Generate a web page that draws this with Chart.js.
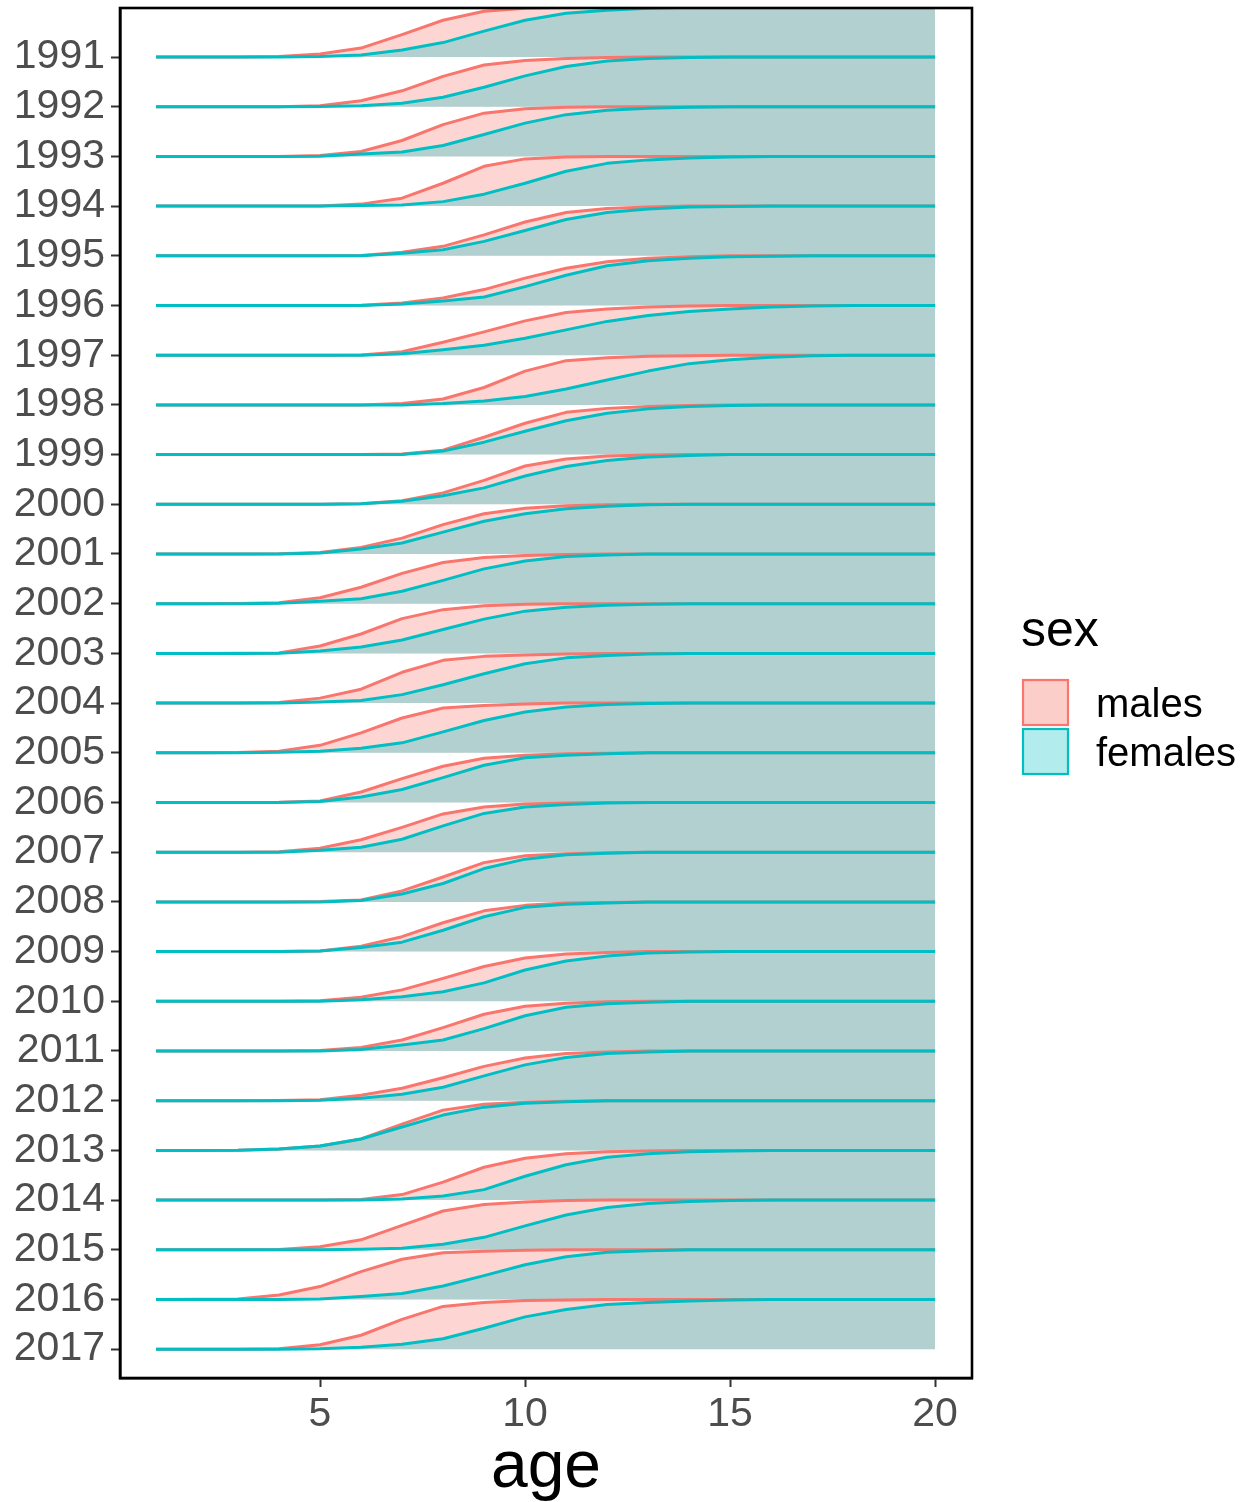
<!DOCTYPE html>
<html>
<head>
<meta charset="utf-8">
<script src="https://cdn.jsdelivr.net/npm/chart.js@4.4.1/dist/chart.umd.min.js"></script>
<style>
  html, body { margin: 0; padding: 0; background: #fff; }
  #wrap { width: 1241px; height: 1502px; }
</style>
</head>
<body>
<div id="wrap"><canvas id="ridges" width="1241" height="1502"></canvas></div>
<script>
// ages on the x axis
const ages = [1, 2, 3, 4, 5, 6, 7, 8, 9, 10, 11, 12, 13, 14, 15, 16, 17, 18, 19, 20];
const xTicks = [5, 10, 15, 20];
const years = [1991, 1992, 1993, 1994, 1995, 1996, 1997, 1998, 1999, 2000, 2001, 2002, 2003, 2004,
  2005, 2006, 2007, 2008, 2009, 2010, 2011, 2012, 2013, 2014, 2015, 2016, 2017];
const sexes = ['males', 'females'];

// cumulative proportion mature by age, one row per year
const males = [
  [0, 0, 0, 0.01, 0.06, 0.18, 0.45, 0.74, 0.92, 0.98, 1, 1, 1, 1, 1, 1, 1, 1, 1, 1],
  [0, 0, 0, 0, 0.02, 0.12, 0.32, 0.61, 0.84, 0.93, 0.97, 0.99, 1, 1, 1, 1, 1, 1, 1, 1],
  [0, 0, 0, 0, 0.02, 0.1, 0.32, 0.64, 0.87, 0.96, 0.99, 1, 1, 1, 1, 1, 1, 1, 1, 1],
  [0, 0, 0, 0, 0, 0.04, 0.16, 0.46, 0.8, 0.95, 0.99, 1, 1, 1, 1, 1, 1, 1, 1, 1],
  [0, 0, 0, 0, 0, 0.005, 0.07, 0.19, 0.42, 0.68, 0.87, 0.95, 0.98, 1, 1, 1, 1, 1, 1, 1],
  [0, 0, 0, 0, 0, 0.005, 0.05, 0.15, 0.32, 0.55, 0.75, 0.88, 0.95, 0.98, 1, 1, 1, 1, 1, 1],
  [0, 0, 0, 0, 0, 0.005, 0.07, 0.26, 0.47, 0.69, 0.86, 0.93, 0.97, 0.99, 1, 1, 1, 1, 1, 1],
  [0, 0, 0, 0, 0, 0, 0.03, 0.12, 0.35, 0.68, 0.89, 0.95, 0.98, 0.99, 1, 1, 1, 1, 1, 1],
  [0, 0, 0, 0, 0, 0, 0.01, 0.09, 0.35, 0.63, 0.85, 0.93, 0.97, 0.99, 1, 1, 1, 1, 1, 1],
  [0, 0, 0, 0, 0, 0.01, 0.07, 0.23, 0.48, 0.77, 0.91, 0.97, 0.99, 1, 1, 1, 1, 1, 1, 1],
  [0, 0, 0, 0.005, 0.03, 0.13, 0.32, 0.59, 0.81, 0.92, 0.97, 0.99, 1, 1, 1, 1, 1, 1, 1, 1],
  [0, 0, 0.005, 0.02, 0.12, 0.33, 0.61, 0.83, 0.93, 0.97, 0.99, 1, 1, 1, 1, 1, 1, 1, 1, 1],
  [0, 0, 0.005, 0.01, 0.15, 0.39, 0.7, 0.88, 0.96, 0.99, 1, 1, 1, 1, 1, 1, 1, 1, 1, 1],
  [0, 0, 0, 0.01, 0.1, 0.28, 0.62, 0.86, 0.94, 0.97, 0.99, 1, 1, 1, 1, 1, 1, 1, 1, 1],
  [0, 0, 0.005, 0.03, 0.15, 0.4, 0.7, 0.9, 0.95, 0.98, 1, 1, 1, 1, 1, 1, 1, 1, 1, 1],
  [0, 0, 0, 0.005, 0.03, 0.21, 0.48, 0.73, 0.89, 0.95, 0.98, 0.99, 1, 1, 1, 1, 1, 1, 1, 1],
  [0, 0, 0, 0.01, 0.08, 0.25, 0.5, 0.77, 0.91, 0.97, 0.99, 1, 1, 1, 1, 1, 1, 1, 1, 1],
  [0, 0, 0, 0, 0.01, 0.04, 0.22, 0.5, 0.79, 0.93, 0.97, 0.99, 1, 1, 1, 1, 1, 1, 1, 1],
  [0, 0, 0, 0, 0.01, 0.11, 0.3, 0.58, 0.82, 0.93, 0.98, 0.99, 1, 1, 1, 1, 1, 1, 1, 1],
  [0, 0, 0, 0, 0.01, 0.08, 0.23, 0.46, 0.7, 0.87, 0.95, 0.98, 1, 1, 1, 1, 1, 1, 1, 1],
  [0, 0, 0, 0, 0.01, 0.07, 0.22, 0.47, 0.74, 0.9, 0.96, 0.99, 1, 1, 1, 1, 1, 1, 1, 1],
  [0, 0, 0, 0.005, 0.02, 0.11, 0.25, 0.46, 0.69, 0.86, 0.95, 0.98, 1, 1, 1, 1, 1, 1, 1, 1],
  [0, 0, 0.005, 0.03, 0.09, 0.23, 0.53, 0.81, 0.93, 0.97, 0.99, 1, 1, 1, 1, 1, 1, 1, 1, 1],
  [0, 0, 0, 0, 0, 0.01, 0.11, 0.36, 0.66, 0.84, 0.93, 0.97, 0.99, 1, 1, 1, 1, 1, 1, 1],
  [0, 0, 0, 0.005, 0.06, 0.2, 0.49, 0.78, 0.91, 0.96, 0.99, 1, 1, 1, 1, 1, 1, 1, 1, 1],
  [0, 0.005, 0.01, 0.09, 0.26, 0.56, 0.81, 0.94, 0.97, 0.99, 1, 1, 1, 1, 1, 1, 1, 1, 1, 1],
  [0, 0, 0, 0.01, 0.09, 0.28, 0.6, 0.86, 0.94, 0.98, 0.99, 1, 1, 1, 1, 1, 1, 1, 1, 1]
];
const females = [
  [0, 0, 0, 0, 0.01, 0.04, 0.14, 0.29, 0.52, 0.74, 0.88, 0.94, 0.98, 1, 1, 1, 1, 1, 1, 1],
  [0, 0, 0, 0, 0.005, 0.02, 0.07, 0.19, 0.39, 0.62, 0.81, 0.92, 0.97, 0.99, 1, 1, 1, 1, 1, 1],
  [0, 0, 0, 0, 0.005, 0.05, 0.09, 0.22, 0.44, 0.67, 0.84, 0.93, 0.97, 0.99, 1, 1, 1, 1, 1, 1],
  [0, 0, 0, 0, 0, 0.01, 0.02, 0.09, 0.24, 0.46, 0.7, 0.86, 0.93, 0.97, 0.99, 1, 1, 1, 1, 1],
  [0, 0, 0, 0, 0, 0, 0.05, 0.12, 0.29, 0.51, 0.73, 0.87, 0.94, 0.98, 0.99, 1, 1, 1, 1, 1],
  [0, 0, 0, 0, 0, 0, 0.03, 0.09, 0.17, 0.38, 0.61, 0.8, 0.9, 0.95, 0.98, 0.99, 1, 1, 1, 1],
  [0, 0, 0, 0, 0, 0, 0.03, 0.11, 0.2, 0.34, 0.51, 0.68, 0.8, 0.88, 0.93, 0.97, 0.99, 1, 1, 1],
  [0, 0, 0, 0, 0, 0, 0, 0.03, 0.08, 0.17, 0.32, 0.5, 0.68, 0.83, 0.91, 0.96, 0.99, 1, 1, 1],
  [0, 0, 0, 0, 0, 0, 0, 0.07, 0.25, 0.47, 0.68, 0.83, 0.92, 0.97, 0.99, 1, 1, 1, 1, 1],
  [0, 0, 0, 0, 0, 0.01, 0.06, 0.17, 0.33, 0.57, 0.76, 0.88, 0.95, 0.98, 1, 1, 1, 1, 1, 1],
  [0, 0, 0, 0, 0.02, 0.1, 0.22, 0.44, 0.66, 0.81, 0.91, 0.96, 0.99, 1, 1, 1, 1, 1, 1, 1],
  [0, 0, 0, 0.01, 0.05, 0.1, 0.25, 0.47, 0.7, 0.86, 0.95, 0.98, 1, 1, 1, 1, 1, 1, 1, 1],
  [0, 0, 0, 0.005, 0.05, 0.13, 0.27, 0.48, 0.69, 0.85, 0.93, 0.97, 0.99, 1, 1, 1, 1, 1, 1, 1],
  [0, 0, 0, 0, 0.02, 0.05, 0.17, 0.37, 0.59, 0.79, 0.91, 0.96, 0.99, 1, 1, 1, 1, 1, 1, 1],
  [0, 0, 0, 0.01, 0.03, 0.09, 0.2, 0.42, 0.65, 0.82, 0.92, 0.97, 0.99, 1, 1, 1, 1, 1, 1, 1],
  [0, 0, 0, 0, 0.02, 0.11, 0.26, 0.5, 0.75, 0.9, 0.95, 0.98, 1, 1, 1, 1, 1, 1, 1, 1],
  [0, 0, 0, 0, 0.04, 0.1, 0.26, 0.53, 0.78, 0.91, 0.96, 0.99, 1, 1, 1, 1, 1, 1, 1, 1],
  [0, 0, 0, 0, 0, 0.03, 0.16, 0.37, 0.67, 0.86, 0.95, 0.98, 1, 1, 1, 1, 1, 1, 1, 1],
  [0, 0, 0, 0, 0.01, 0.08, 0.19, 0.43, 0.7, 0.89, 0.95, 0.98, 1, 1, 1, 1, 1, 1, 1, 1],
  [0, 0, 0, 0, 0, 0.03, 0.09, 0.19, 0.37, 0.63, 0.81, 0.91, 0.97, 0.99, 1, 1, 1, 1, 1, 1],
  [0, 0, 0, 0, 0, 0.03, 0.12, 0.22, 0.45, 0.71, 0.88, 0.95, 0.98, 1, 1, 1, 1, 1, 1, 1],
  [0, 0, 0, 0, 0.01, 0.05, 0.13, 0.27, 0.5, 0.72, 0.87, 0.95, 0.98, 1, 1, 1, 1, 1, 1, 1],
  [0, 0, 0.005, 0.03, 0.09, 0.23, 0.47, 0.71, 0.87, 0.95, 0.98, 1, 1, 1, 1, 1, 1, 1, 1, 1],
  [0, 0, 0, 0, 0, 0, 0.02, 0.08, 0.21, 0.48, 0.71, 0.86, 0.93, 0.97, 0.99, 1, 1, 1, 1, 1],
  [0, 0, 0, 0, 0, 0.01, 0.03, 0.11, 0.25, 0.48, 0.7, 0.85, 0.93, 0.97, 0.99, 1, 1, 1, 1, 1],
  [0, 0, 0, 0, 0.01, 0.06, 0.12, 0.27, 0.48, 0.7, 0.86, 0.95, 0.98, 1, 1, 1, 1, 1, 1, 1],
  [0, 0, 0, 0, 0.01, 0.04, 0.1, 0.21, 0.42, 0.65, 0.8, 0.9, 0.94, 0.97, 0.99, 1, 1, 1, 1, 1]
];

const lineColors = ['#F8766D', '#00BFC4'];
const fillColors = ['rgba(248,118,109,0.3)', 'rgba(0,191,196,0.3)'];
const keyFills = ['rgba(248,118,109,0.36)', 'rgba(0,191,196,0.3)'];

Chart.defaults.font.family = '"Liberation Sans", Arial, sans-serif';

// each year sits on its own baseline, top row highest; later rows are drawn over earlier ones
const nRows = years.length;
const datasets = [];
years.forEach((yr, i) => {
  const base = nRows - 1 - i;
  [males[i], females[i]].forEach((vals, s) => {
    datasets.push({
      label: sexes[s] + ' ' + yr,
      data: ages.map((a, j) => ({ x: a, y: base + vals[j] })),
      fill: { value: base },
      backgroundColor: fillColors[s],
      borderColor: lineColors[s],
      borderWidth: 3,
      borderJoinStyle: 'round',
      pointRadius: 0,
      tension: 0,
      order: 1000 - (i * 2 + s)
    });
  });
});

// the axis labels should not push the panel in
function noOverflow(scale) {
  scale.paddingTop = 0;
  scale.paddingBottom = 0;
  scale.paddingLeft = 0;
  scale.paddingRight = 0;
}

const frame = {
  id: 'frame',
  afterDraw(chart) {
    const { ctx, chartArea: a } = chart;
    ctx.save();
    ctx.strokeStyle = '#000';
    ctx.lineWidth = 2.6;
    ctx.strokeRect(a.left, a.top, a.right - a.left, a.bottom - a.top);

    // legend for sex
    ctx.fillStyle = '#000';
    ctx.textAlign = 'left';
    ctx.textBaseline = 'alphabetic';
    ctx.font = '50px "Liberation Sans", Arial, sans-serif';
    ctx.fillText('sex', 1021, 646);
    ctx.font = '40px "Liberation Sans", Arial, sans-serif';
    sexes.forEach((sex, s) => {
      const y = 679 + s * 49;
      ctx.fillStyle = '#fff';
      ctx.fillRect(1022, y, 47, 47);
      ctx.fillStyle = keyFills[s];
      ctx.fillRect(1022, y, 47, 47);
      ctx.strokeStyle = lineColors[s];
      ctx.lineWidth = 2.2;
      ctx.strokeRect(1023, y + 1, 45, 45);
      ctx.fillStyle = '#000';
      ctx.fillText(sex, 1096, y + 38);
    });
    ctx.restore();
  }
};

new Chart(document.getElementById('ridges'), {
  type: 'line',
  data: { datasets },
  options: {
    responsive: false,
    animation: false,
    devicePixelRatio: 1,
    layout: { padding: { top: 8, right: 269, left: 0, bottom: 0 } },
    plugins: {
      legend: { display: false },
      tooltip: { enabled: false },
      filler: { propagate: false }
    },
    scales: {
      x: {
        type: 'linear',
        min: 0.122,
        max: 20.9,
        afterFit: (scale) => { scale.height = 124; noOverflow(scale); },
        afterBuildTicks: (scale) => { scale.ticks = xTicks.map(v => ({ value: v })); },
        ticks: { color: '#4D4D4D', font: { size: 41 }, padding: 3, maxRotation: 0 },
        grid: { drawOnChartArea: false, drawTicks: true, tickLength: 9, tickColor: '#333', tickWidth: 2 },
        border: { display: true, color: '#000', width: 2.6 },
        title: { display: true, text: 'age', color: '#000', font: { size: 66, lineHeight: 1.02 }, padding: { top: 0, bottom: 0 } }
      },
      y: {
        type: 'linear',
        min: -0.58,
        max: 26.986,
        afterFit: (scale) => { scale.width = 120; noOverflow(scale); },
        afterBuildTicks: (scale) => { scale.ticks = years.map((yr, i) => ({ value: nRows - 1 - i })); },
        ticks: {
          color: '#4D4D4D',
          font: { size: 41 },
          padding: 6,
          callback: (v) => years[nRows - 1 - v]
        },
        grid: { drawOnChartArea: false, drawTicks: true, tickLength: 9, tickColor: '#333', tickWidth: 2 },
        border: { display: true, color: '#000', width: 2.6 }
      }
    }
  },
  plugins: [frame]
});
</script>
</body>
</html>
